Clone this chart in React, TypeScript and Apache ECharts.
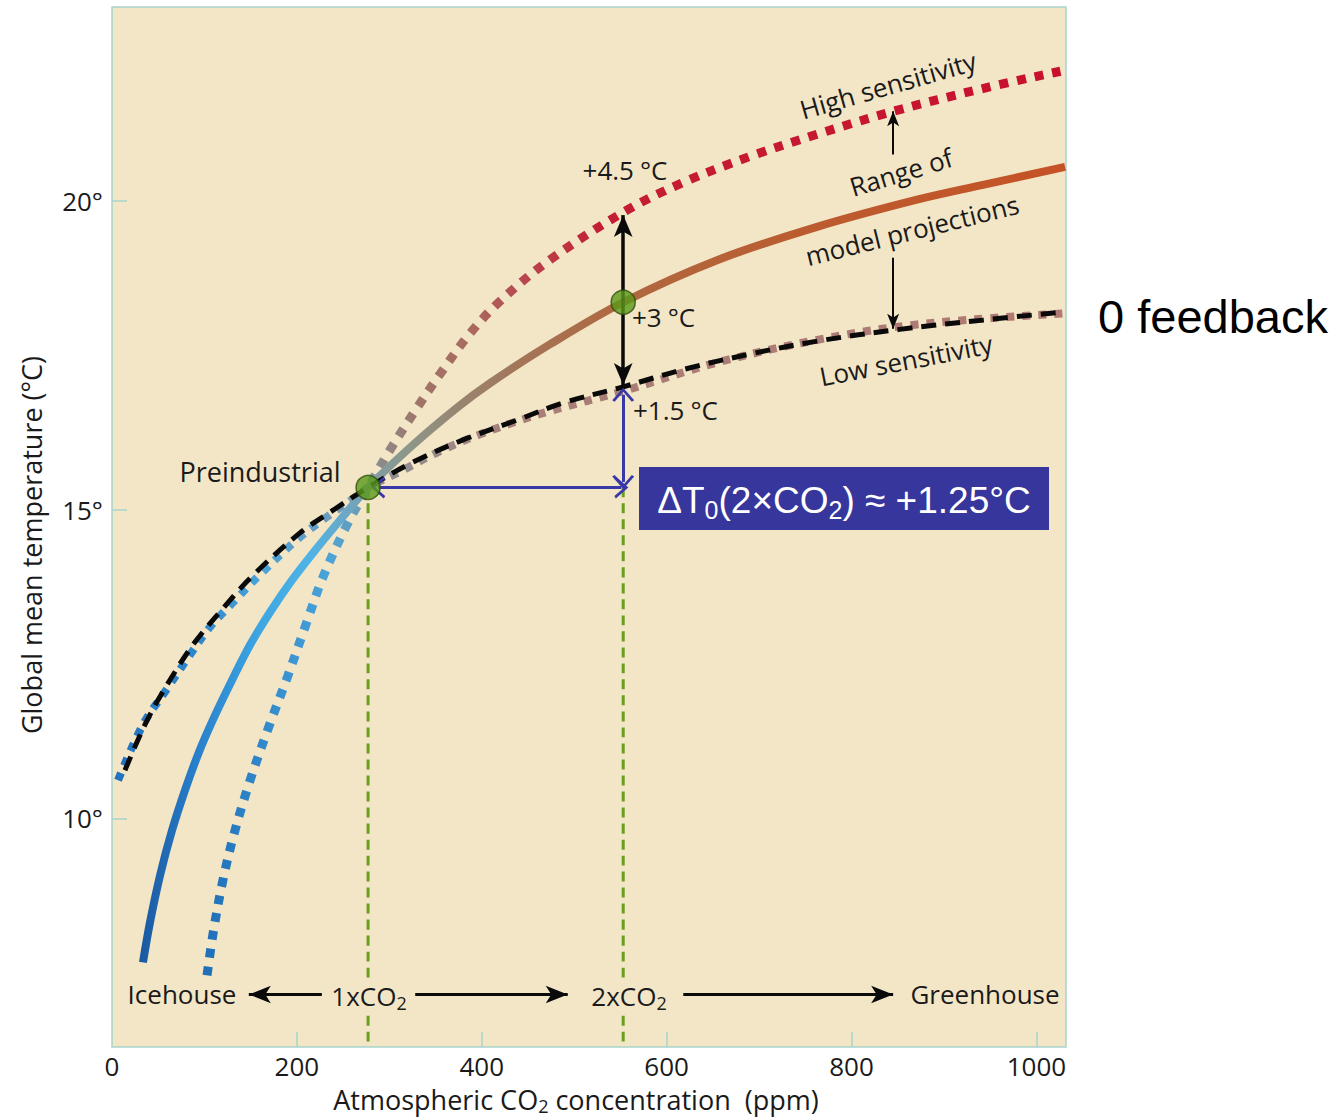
import React, { useEffect, useRef } from "react";
import * as echarts from "echarts";

// ---------- axis values ----------
const xTickValues = [200, 400, 600, 800, 1000];
const xLabelValues = [0, 200, 400, 600, 800, 1000];
const yLabelValues = [10, 15, 20];

// ---------- curves: [CO2 ppm, temperature °C] ----------
const centralCurve: [number, number][] = [
  [33.5, 7.67], [41, 8.31], [52, 9.08], [65, 9.81], [79, 10.46], [95, 11.11], [111.4, 11.67],
  [129.8, 12.24], [149.3, 12.81], [170.9, 13.34], [194.7, 13.86], [219.6, 14.34],
  [246.6, 14.83], [277, 15.36], [325.6, 16.05], [373, 16.65], [409, 17.05], [474, 17.68],
  [553, 18.36], [654.5, 19.04], [762.7, 19.58], [870.8, 20.02], [942.2, 20.26], [1031, 20.55],
];

const highCurve: [number, number][] = [
  [102.8, 7.46], [110, 8.2], [120, 9.0], [132, 9.75], [149, 10.6], [170, 11.5], [190, 12.3],
  [210, 13.15], [228, 13.9], [254, 14.75], [277, 15.36], [300, 15.95], [330, 16.65],
  [355, 17.2], [387, 17.85], [420, 18.38], [474, 19.05], [557, 19.85], [618, 20.3],
  [690, 20.72], [763, 21.08], [845, 21.45], [942, 21.82], [1026, 22.1],
];

const lowCurve: [number, number][] = [
  [6.5, 10.62], [33.5, 11.52], [59.5, 12.1], [84.4, 12.65], [106, 13.1], [131, 13.5],
  [160, 13.95], [203, 14.55], [236, 14.92], [263, 15.2], [277, 15.36], [312, 15.62],
  [355, 15.95], [398, 16.22], [438, 16.43], [474, 16.6], [553, 16.92], [654, 17.38],
  [763, 17.75], [871, 18.0], [1030, 18.18],
];

const zeroFeedbackCurve: [number, number][] = [
  [14, 10.78], [35, 11.5], [55, 12.05], [87, 12.8], [120, 13.4], [152, 13.93], [203, 14.62],
  [240, 15.0], [277, 15.36], [325.6, 15.77], [379.7, 16.13], [438, 16.45], [488, 16.73],
  [553, 16.99], [618, 17.27], [690, 17.52], [763, 17.73], [852, 17.92], [942, 18.07],
  [1028, 18.2],
];

// ---------- key points ----------
const co2Single = 277;
const co2Double = 553;
const preindustrial: [number, number] = [277, 15.36];
const doubled: [number, number] = [553, 18.36];
const keyPoints: [number, number][] = [preindustrial, doubled];
const axisFloor = 6.3;

// arrows: [x1, y1, x2, y2]
const sensitivityArrow = [553, 19.77, 553, 17.02];
const zeroFbHorizontal = [288, 15.36, 551, 15.36];
const zeroFbVertical = [553, 15.45, 553, 16.86];
const rangeUpArrow = [845, 20.75, 845, 21.45];
const rangeDownArrow = [845, 19.08, 845, 17.93];
const rowY = 7.15;
const icehouseArrow = [227, rowY, 148, rowY];
const singleArrow = [328, rowY, 493, rowY];
const doubleArrow = [618, rowY, 845, rowY];

const FONT = "'Open Sans', sans-serif";
const ARIAL = "'Liberation Sans', Arial, sans-serif";
const BG = "#f3e6c7";
const TEXT = "#1a1a1a";

const grad = (stops: [number, string][]) =>
  new echarts.graphic.LinearGradient(0, 0, 1, 0, stops.map(([offset, color]) => ({ offset, color })));

const curve = (data: [number, number][], width: number, dash: any, color: any) => ({
  type: "line",
  data,
  smooth: 0.35,
  showSymbol: false,
  symbol: "none",
  silent: true,
  lineStyle: { width, type: dash, color, cap: "butt" },
  emphasis: { disabled: true },
});

const seg = (a: number[]) => [{ coord: [a[0], a[1]] }, { coord: [a[2], a[3]] }];

const arrowSeries = (arrows: number[][], color: string, width: number, symbol: any, size: any) => ({
  type: "line",
  data: [],
  silent: true,
  markLine: {
    silent: true,
    animation: false,
    symbol,
    symbolSize: size,
    label: { show: false },
    emphasis: { disabled: true },
    lineStyle: { color, width, type: "solid" },
    data: arrows.map(seg),
  },
});

const chevron = "path://M10,0 L20,12.5 L17.8,14 L10,4 L2.2,14 L0,12.5 Z";

const txt = (text: string, x: number, y: number, opts: any = {}) => ({
  type: "text",
  x,
  y,
  rotation: ((opts.rot || 0) * Math.PI) / 180,
  z: 100,
  style: {
    text,
    fill: opts.fill || TEXT,
    font: `${opts.size || 26}px ${opts.family || FONT}`,
    align: opts.align || "center",
    verticalAlign: "middle",
    rich: opts.rich,
    backgroundColor: opts.bg,
    padding: opts.pad,
  },
});

const subRich = (size: number, sub: number, family: string, fill: string) => ({
  m: { fontSize: size, fontFamily: family, color: fill, lineHeight: size + 4 },
  s: { fontSize: sub, fontFamily: family, color: fill, lineHeight: sub + 2, padding: [size * 0.55, 0, 0, 0] },
});

const degRich = {
  n: { fontSize: 26, fontFamily: FONT, color: TEXT },
  d: { fontSize: 26, fontFamily: FONT, color: TEXT, padding: [0, 0, 0, 6] },
};

export default function App() {
  const ref = useRef<HTMLDivElement>(null);
  useEffect(() => {
    if (!ref.current) return;
    const chart = echarts.init(ref.current, null, { renderer: "svg" });
    const option: any = {
      animation: false,
      backgroundColor: "#ffffff",
      grid: {
        left: 112, top: 7, width: 954, height: 1040, show: true,
        backgroundColor: BG, borderColor: "#a9d5ca", borderWidth: 1.5,
        outerBoundsMode: "none",
      },
      xAxis: {
        type: "value", min: 0, max: 1032,
        axisLine: { show: false },
        axisTick: { show: true, inside: true, length: 15, customValues: xTickValues, lineStyle: { color: "#a9d5ca", width: 1.5 } },
        axisLabel: { customValues: xLabelValues, fontSize: 26, fontFamily: FONT, color: TEXT, margin: 6, formatter: (v: number) => `${v}` },
        splitLine: { show: false },
      },
      yAxis: {
        type: "value", min: axisFloor, max: 23.14,
        axisLine: { show: false },
        axisTick: { show: true, inside: true, length: 15, customValues: yLabelValues, lineStyle: { color: "#a9d5ca", width: 1.5 } },
        axisLabel: { customValues: yLabelValues, fontSize: 26, fontFamily: FONT, color: TEXT, margin: 9, formatter: (v: number) => `${v}°` },
        splitLine: { show: false },
      },
      series: [
        curve([[co2Single, preindustrial[1]], [co2Single, axisFloor]], 3, [10, 6], "#6b9e1c"),
        curve([[co2Double, preindustrial[1]], [co2Double, axisFloor]], 3, [10, 6], "#6b9e1c"),
        curve(lowCurve, 8, [8, 8], grad([
          [0, "#2272bf"], [0.087, "#3088cc"], [0.15, "#4aa2d8"], [0.224, "#6a9cc0"],
          [0.264, "#8a9098"], [0.33, "#998a88"], [0.425, "#a87e78"], [1, "#b07a72"],
        ])),
        curve(highCurve, 9, [9, 9], grad([
          [0, "#2070b8"], [0.086, "#3890d0"], [0.144, "#4aa4d8"], [0.18, "#6f9cb5"],
          [0.203, "#8e8a8a"], [0.25, "#a07468"], [0.309, "#aa6a60"], [0.37, "#b84850"],
          [0.46, "#c41e34"], [1, "#c8102e"],
        ])),
        curve(centralCurve, 8, "solid", grad([
          [0, "#1b5aa3"], [0.062, "#2a82cc"], [0.127, "#3ea6e2"], [0.181, "#4fb3e6"],
          [0.219, "#6aa8c8"], [0.244, "#7e9ea8"], [0.29, "#8e9688"], [0.344, "#988470"],
          [0.409, "#a47558"], [0.52, "#b0683f"], [0.713, "#bb5c30"], [1, "#c55226"],
        ])),
        curve(zeroFeedbackCurve, 5, [15, 9], "#0a0a0a"),
        arrowSeries([sensitivityArrow], "#0a0a0a", 3.5, ["arrow", "arrow"], [14, 22]),
        arrowSeries([zeroFbHorizontal, zeroFbVertical], "#3838a8", 3, [chevron, chevron], [22, 14]),
        arrowSeries([rangeUpArrow, rangeDownArrow], "#0a0a0a", 2, ["none", "arrow"], [9, 15]),
        arrowSeries([icehouseArrow, singleArrow, doubleArrow], "#0a0a0a", 3, ["none", "arrow"], [13, 22]),
        {
          type: "scatter",
          data: keyPoints,
          symbolSize: 24,
          silent: true,
          z: 10,
          itemStyle: { color: "#5a9a1a", borderColor: "#2d4d0a", borderWidth: 1.5 },
          emphasis: { disabled: true },
        },
      ],
      graphic: [
        txt("Global mean temperature (°C)", 31, 545, { rot: 90, size: 27 }),
        txt("{m|Atmospheric CO}{s|2}{m| concentration  (ppm)}", 576, 1099, { rich: subRich(27, 18, FONT, TEXT) }),
        txt("Preindustrial", 260, 471, { size: 27 }),
        txt("{n|+4.5}{d|°C}", 625, 170, { rich: degRich }),
        txt("{n|+3}{d|°C}", 632, 317, { align: "left", rich: degRich }),
        txt("{n|+1.5}{d|°C}", 633, 410, { align: "left", rich: degRich }),
        txt("High sensitivity", 888, 85, { rot: 16 }),
        txt("Range of", 901, 172, { rot: 17 }),
        txt("model projections", 912, 230, { rot: 14 }),
        txt("Low sensitivity", 906, 360, { rot: 11 }),
        txt("Icehouse", 182, 994),
        txt("{m|1xCO}{s|2}", 369, 996, { rich: subRich(26, 18, FONT, TEXT), bg: BG, pad: [0, 4] }),
        txt("{m|2xCO}{s|2}", 629, 996, { rich: subRich(26, 18, FONT, TEXT), bg: BG, pad: [0, 4] }),
        txt("Greenhouse", 985, 994),
        txt("0 feedback", 1098, 316, { align: "left", size: 47, family: ARIAL, fill: "#000" }),
        {
          type: "rect", z: 100,
          shape: { x: 639, y: 467, width: 410, height: 63 },
          style: { fill: "#36369c" },
        },
        txt("{m|ΔT}{s|0}{m|(2×CO}{s|2}{m|) ≈ +1.25°C}", 844, 500, {
          rich: subRich(37, 25, ARIAL, "#ffffff"), fill: "#ffffff", family: ARIAL, size: 37,
        }),
      ],
    };
    chart.setOption(option);
    return () => chart.dispose();
  }, []);
  return (
    <div
      ref={ref}
      style={{ position: "fixed", left: 0, top: 0, width: 1343, height: 1120, background: "#fff" }}
    />
  );
}
